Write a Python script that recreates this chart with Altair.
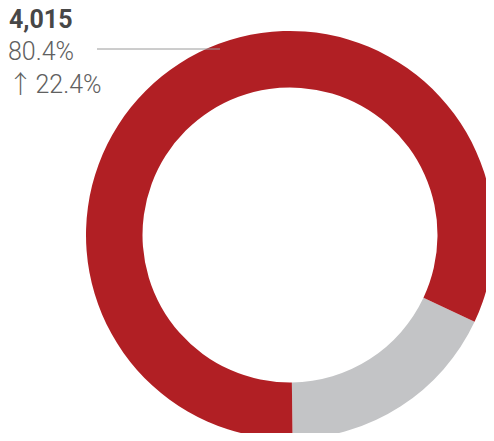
import math
import altair as alt
import pandas as pd

# Data
categories = ["Other", "Selected"]
shares = [17.8, 82.2]
colors = ["#C3C4C6", "#B11F24"]
label_value = ["4,015"]
label_share = ["80.4%"]
label_arrow = ["↑"]
label_change = ["22.4%"]

start = math.radians(115.2)

df = pd.DataFrame({"category": categories, "share": shares, "order": [0, 1]})

arc = alt.Chart(df).mark_arc(
    x=282, y=227, outerRadius=204, innerRadius=147.5, stroke=None
).encode(
    theta=alt.Theta("share:Q", stack=True, scale=alt.Scale(range=[start, start + 2 * math.pi])),
    color=alt.Color("category:N", scale=alt.Scale(domain=categories, range=colors), legend=None),
    order=alt.Order("order:Q"),
)

rule = alt.Chart(pd.DataFrame({"a": [0]})).mark_rule(color="#9a9a9a", strokeWidth=1).encode(
    x=alt.value(89), x2=alt.value(212), y=alt.value(41)
)

t1 = alt.Chart(pd.DataFrame({"t": label_value})).mark_text(
    align="left", baseline="alphabetic", font="Roboto", fontWeight="bold", fontSize=25, color="#474747"
).encode(text="t:N", x=alt.value(1), y=alt.value(20.3))

t2 = alt.Chart(pd.DataFrame({"t": label_share})).mark_text(
    align="left", baseline="alphabetic", font="Roboto", fontWeight=300, fontSize=25, color="#606060"
).encode(text="t:N", x=alt.value(0), y=alt.value(52))

t3a = alt.Chart(pd.DataFrame({"t": label_arrow})).mark_text(
    align="center", baseline="alphabetic", font="Noto Sans CJK SC", fontWeight=300, fontSize=25, color="#606060"
).encode(text="t:N", x=alt.value(12.5), y=alt.value(84.7))

t3 = alt.Chart(pd.DataFrame({"t": label_change})).mark_text(
    align="left", baseline="alphabetic", font="Roboto", fontWeight=300, fontSize=25, color="#606060"
).encode(text="t:N", x=alt.value(27.5), y=alt.value(84.7))

chart = alt.layer(arc, rule, t1, t2, t3a, t3).properties(
    width=478, height=425, autosize=alt.AutoSizeParams(type="none"), padding=0
).configure_view(stroke=None)

chart.save("out.html", embed_options={"renderer": "svg", "actions": False})
